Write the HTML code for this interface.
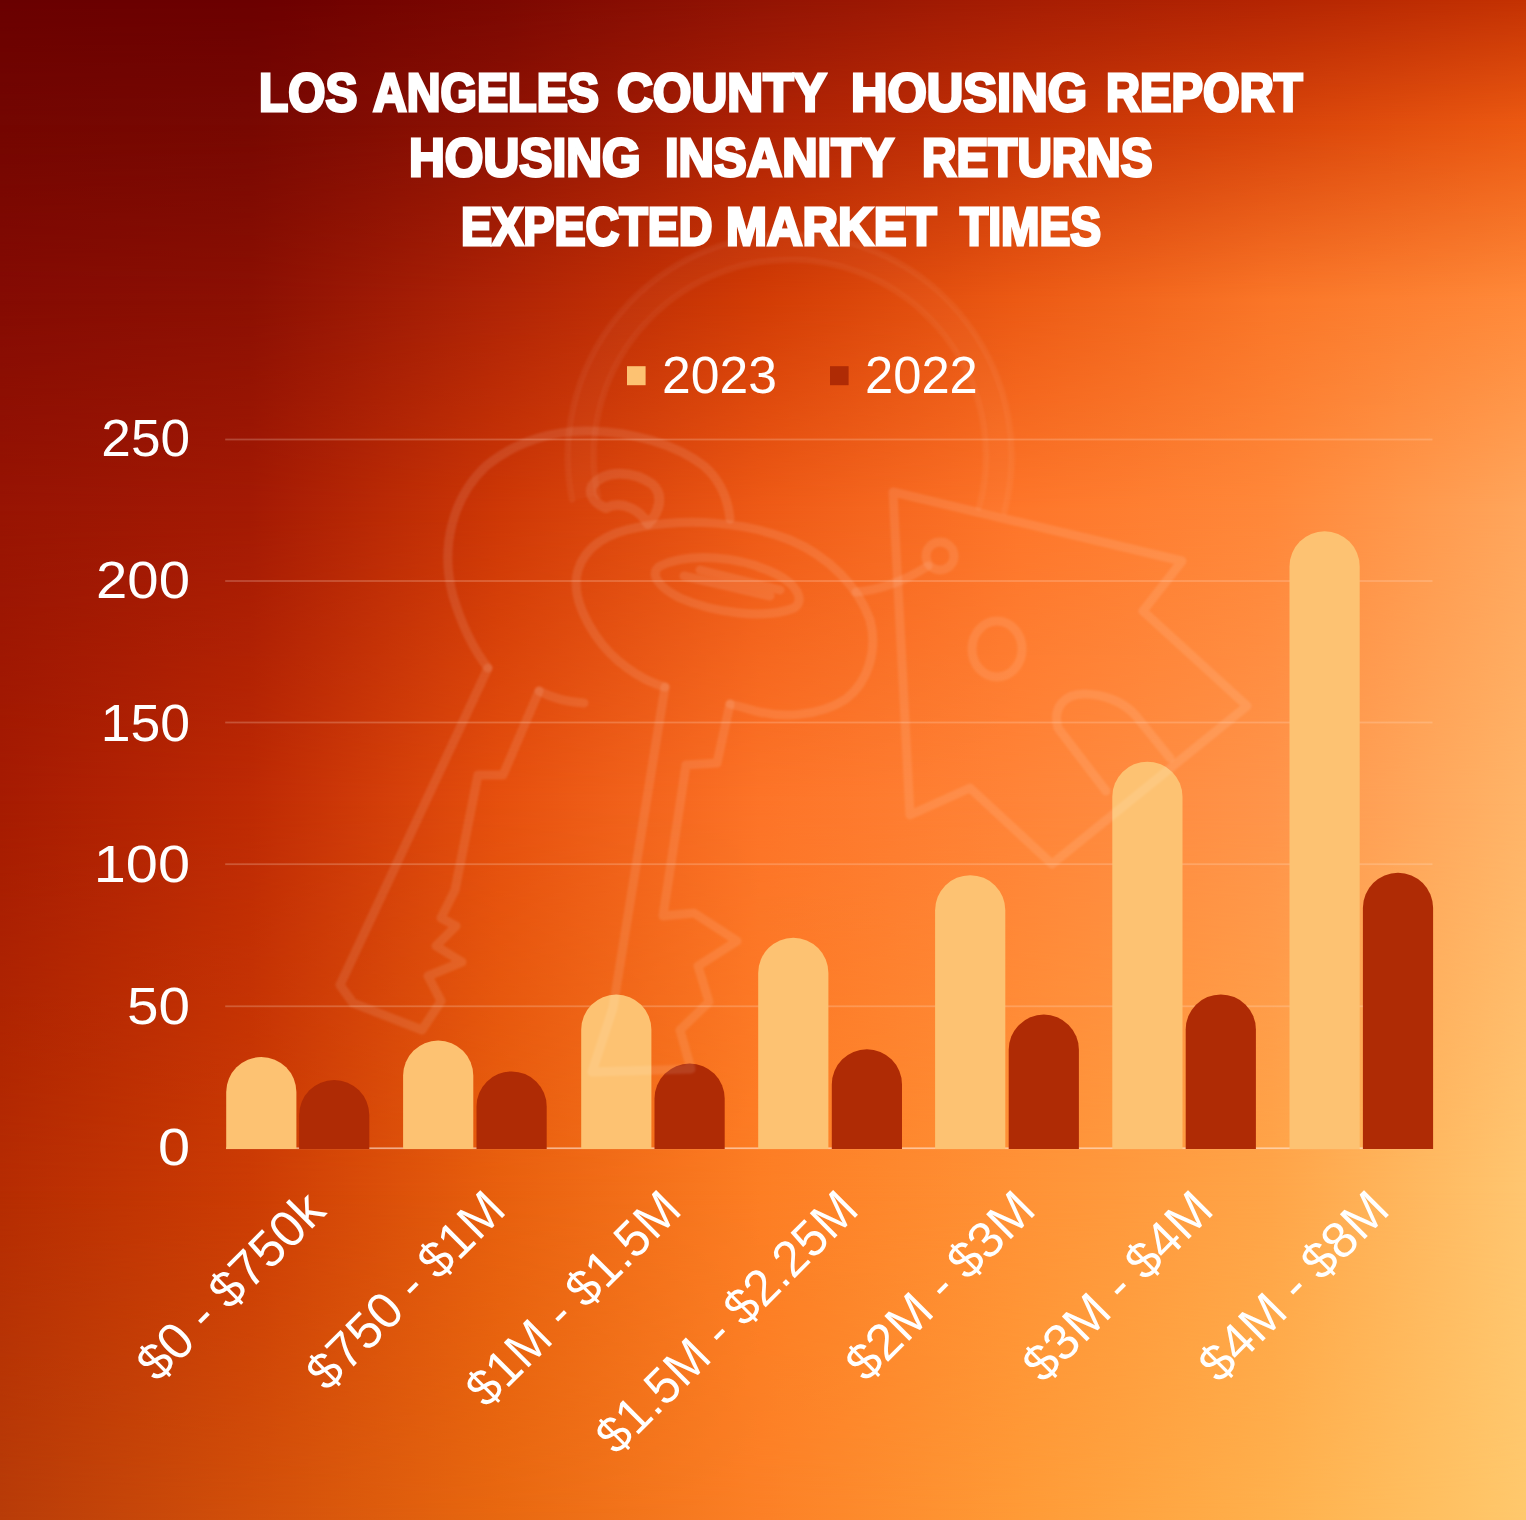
<!DOCTYPE html>
<html lang="en"><head><meta charset="utf-8"><title>Los Angeles County Housing Report</title>
<style>
html,body{margin:0;padding:0;}
body{width:1526px;height:1520px;overflow:hidden;background:#E85A12;font-family:"Liberation Sans",sans-serif;}
#stage{position:relative;width:1526px;height:1520px;overflow:hidden;}
.abs{position:absolute;left:0;top:0;display:block;}
.t{position:absolute;color:#fff;white-space:nowrap;line-height:1.149;font-family:"Liberation Sans",sans-serif;}
.ttl{font-weight:bold;-webkit-text-stroke:3.0px #fff;}
.w{position:absolute;top:0;transform-origin:0 50%;white-space:nowrap;}
.yl,.xl{text-align:right;}
</style></head><body><div id="stage">
<svg class="abs" width="1526" height="1520" viewBox="0 0 1526 1520"><defs><linearGradient id="r0" x1="0" y1="0" x2="1526" y2="0" gradientUnits="userSpaceOnUse"><stop offset="0.0000" stop-color="#6A0000"/><stop offset="0.1638" stop-color="#6C0000"/><stop offset="0.3277" stop-color="#7C0802"/><stop offset="0.4980" stop-color="#931404"/><stop offset="0.6664" stop-color="#A61D04"/><stop offset="0.8329" stop-color="#B42503"/><stop offset="1.0000" stop-color="#C43203"/></linearGradient><linearGradient id="r1" x1="0" y1="0" x2="1526" y2="0" gradientUnits="userSpaceOnUse"><stop offset="0.0000" stop-color="#740601"/><stop offset="0.1638" stop-color="#780802"/><stop offset="0.3277" stop-color="#8E1203"/><stop offset="0.4980" stop-color="#AE2205"/><stop offset="0.6664" stop-color="#C43206"/><stop offset="0.8329" stop-color="#D8440A"/><stop offset="1.0000" stop-color="#EC5A12"/></linearGradient><linearGradient id="a1" x1="0" y1="0" x2="0" y2="125" gradientUnits="userSpaceOnUse"><stop offset="0" stop-color="#fff" stop-opacity="0"/><stop offset="1" stop-color="#fff" stop-opacity="1"/></linearGradient><mask id="m1" maskUnits="userSpaceOnUse" x="0" y="0" width="1526" height="1520"><rect x="0" y="0" width="1526" height="1520" fill="url(#a1)"/></mask><linearGradient id="r2" x1="0" y1="0" x2="1526" y2="0" gradientUnits="userSpaceOnUse"><stop offset="0.0000" stop-color="#850B03"/><stop offset="0.1638" stop-color="#8C1003"/><stop offset="0.3277" stop-color="#B02406"/><stop offset="0.4980" stop-color="#D23C05"/><stop offset="0.6664" stop-color="#EC5A14"/><stop offset="0.8329" stop-color="#FA7628"/><stop offset="1.0000" stop-color="#FF8A3A"/></linearGradient><linearGradient id="a2" x1="0" y1="125" x2="0" y2="300" gradientUnits="userSpaceOnUse"><stop offset="0" stop-color="#fff" stop-opacity="0"/><stop offset="1" stop-color="#fff" stop-opacity="1"/></linearGradient><mask id="m2" maskUnits="userSpaceOnUse" x="0" y="0" width="1526" height="1520"><rect x="0" y="125" width="1526" height="1395" fill="url(#a2)"/></mask><linearGradient id="r3" x1="0" y1="0" x2="1526" y2="0" gradientUnits="userSpaceOnUse"><stop offset="0.0000" stop-color="#981403"/><stop offset="0.1638" stop-color="#A41A04"/><stop offset="0.3277" stop-color="#CE3806"/><stop offset="0.4980" stop-color="#EE5A16"/><stop offset="0.6664" stop-color="#FE762A"/><stop offset="0.8329" stop-color="#FF883A"/><stop offset="1.0000" stop-color="#FFA65C"/></linearGradient><linearGradient id="a3" x1="0" y1="300" x2="0" y2="510" gradientUnits="userSpaceOnUse"><stop offset="0" stop-color="#fff" stop-opacity="0"/><stop offset="1" stop-color="#fff" stop-opacity="1"/></linearGradient><mask id="m3" maskUnits="userSpaceOnUse" x="0" y="0" width="1526" height="1520"><rect x="0" y="300" width="1526" height="1220" fill="url(#a3)"/></mask><linearGradient id="r4" x1="0" y1="0" x2="1526" y2="0" gradientUnits="userSpaceOnUse"><stop offset="0.0000" stop-color="#A61B02"/><stop offset="0.1638" stop-color="#BE2A04"/><stop offset="0.3277" stop-color="#E6500E"/><stop offset="0.4980" stop-color="#FD7428"/><stop offset="0.6664" stop-color="#FF8438"/><stop offset="0.8329" stop-color="#FF944A"/><stop offset="1.0000" stop-color="#FFB468"/></linearGradient><linearGradient id="a4" x1="0" y1="510" x2="0" y2="800" gradientUnits="userSpaceOnUse"><stop offset="0" stop-color="#fff" stop-opacity="0"/><stop offset="1" stop-color="#fff" stop-opacity="1"/></linearGradient><mask id="m4" maskUnits="userSpaceOnUse" x="0" y="0" width="1526" height="1520"><rect x="0" y="510" width="1526" height="1010" fill="url(#a4)"/></mask><linearGradient id="r5" x1="0" y1="0" x2="1526" y2="0" gradientUnits="userSpaceOnUse"><stop offset="0.0000" stop-color="#B62C02"/><stop offset="0.1638" stop-color="#CC3C04"/><stop offset="0.3277" stop-color="#E8600E"/><stop offset="0.4980" stop-color="#FD7E24"/><stop offset="0.6664" stop-color="#FF9236"/><stop offset="0.8329" stop-color="#FFA548"/><stop offset="1.0000" stop-color="#FFC670"/></linearGradient><linearGradient id="a5" x1="0" y1="800" x2="0" y2="1190" gradientUnits="userSpaceOnUse"><stop offset="0" stop-color="#fff" stop-opacity="0"/><stop offset="1" stop-color="#fff" stop-opacity="1"/></linearGradient><mask id="m5" maskUnits="userSpaceOnUse" x="0" y="0" width="1526" height="1520"><rect x="0" y="800" width="1526" height="720" fill="url(#a5)"/></mask><linearGradient id="r6" x1="0" y1="0" x2="1526" y2="0" gradientUnits="userSpaceOnUse"><stop offset="0.0000" stop-color="#B83C08"/><stop offset="0.1638" stop-color="#D2500A"/><stop offset="0.3277" stop-color="#E86810"/><stop offset="0.4980" stop-color="#FC8026"/><stop offset="0.6664" stop-color="#FF9A36"/><stop offset="0.8329" stop-color="#FFB04C"/><stop offset="1.0000" stop-color="#FFC86C"/></linearGradient><linearGradient id="a6" x1="0" y1="1190" x2="0" y2="1520" gradientUnits="userSpaceOnUse"><stop offset="0" stop-color="#fff" stop-opacity="0"/><stop offset="1" stop-color="#fff" stop-opacity="1"/></linearGradient><mask id="m6" maskUnits="userSpaceOnUse" x="0" y="0" width="1526" height="1520"><rect x="0" y="1190" width="1526" height="330" fill="url(#a6)"/></mask></defs><rect x="0" y="0" width="1526" height="1520" fill="url(#r0)"/><rect x="0" y="0" width="1526" height="1520" fill="url(#r1)" mask="url(#m1)"/><rect x="0" y="125" width="1526" height="1395" fill="url(#r2)" mask="url(#m2)"/><rect x="0" y="300" width="1526" height="1220" fill="url(#r3)" mask="url(#m3)"/><rect x="0" y="510" width="1526" height="1010" fill="url(#r4)" mask="url(#m4)"/><rect x="0" y="800" width="1526" height="720" fill="url(#r5)" mask="url(#m5)"/><rect x="0" y="1190" width="1526" height="330" fill="url(#r6)" mask="url(#m6)"/></svg>
<svg class="abs" width="1526" height="1520" viewBox="0 0 1526 1520"><rect x="225.2" y="438.6" width="1207.3" height="1.8" fill="#FFE4D6" fill-opacity="0.24"/><rect x="225.2" y="580.1" width="1207.3" height="1.8" fill="#FFE4D6" fill-opacity="0.24"/><rect x="225.2" y="721.6" width="1207.3" height="1.8" fill="#FFE4D6" fill-opacity="0.24"/><rect x="225.2" y="863.3" width="1207.3" height="1.8" fill="#FFE4D6" fill-opacity="0.24"/><rect x="225.2" y="1005.4" width="1207.3" height="1.8" fill="#FFE4D6" fill-opacity="0.24"/><rect x="226" y="1147.4" width="1206.5" height="1.7" fill="#FFEBDD" fill-opacity="0.6"/><path d="M226.2 1149.1V1092.1A35.1 35.1 0 0 1 296.4 1092.1V1149.1Z" fill="#FDC272"/><path d="M299.1 1149.1V1115.1A35.1 35.1 0 0 1 369.3 1115.1V1149.1Z" fill="#AF2B05"/><path d="M403.1 1149.1V1075.6A35.1 35.1 0 0 1 473.3 1075.6V1149.1Z" fill="#FDC272"/><path d="M476.5 1149.1V1106.5A35.1 35.1 0 0 1 546.7 1106.5V1149.1Z" fill="#AF2B05"/><path d="M581.2 1149.1V1029.6A35.1 35.1 0 0 1 651.4 1029.6V1149.1Z" fill="#FDC272"/><path d="M654.5 1149.1V1098.6A35.1 35.1 0 0 1 724.7 1098.6V1149.1Z" fill="#AF2B05"/><path d="M758.2 1149.1V972.9A35.1 35.1 0 0 1 828.4 972.9V1149.1Z" fill="#FDC272"/><path d="M831.8 1149.1V1084.4A35.1 35.1 0 0 1 902.0 1084.4V1149.1Z" fill="#AF2B05"/><path d="M935.1 1149.1V910.3A35.1 35.1 0 0 1 1005.3 910.3V1149.1Z" fill="#FDC272"/><path d="M1008.7 1149.1V1049.7A35.1 35.1 0 0 1 1078.9 1049.7V1149.1Z" fill="#AF2B05"/><path d="M1112.3 1149.1V796.8A35.1 35.1 0 0 1 1182.5 796.8V1149.1Z" fill="#FDC272"/><path d="M1185.7 1149.1V1029.5A35.1 35.1 0 0 1 1255.9 1029.5V1149.1Z" fill="#AF2B05"/><path d="M1289.5 1149.1V566.4A35.1 35.1 0 0 1 1359.7 566.4V1149.1Z" fill="#FDC272"/><path d="M1362.9 1149.1V907.8A35.1 35.1 0 0 1 1433.1 907.8V1149.1Z" fill="#AF2B05"/><rect x="627" y="366.2" width="18.6" height="19" fill="#FDC272"/><rect x="830" y="366.2" width="18.6" height="19" fill="#AF2B05"/></svg>
<svg class="abs" width="1526" height="1520" viewBox="0 0 1526 1520"><defs><filter id="wb" x="-5%" y="-5%" width="110%" height="110%"><feGaussianBlur stdDeviation="1.2"/></filter></defs>
<g filter="url(#wb)" fill="none" stroke="#fff" stroke-opacity="0.1" stroke-width="9" stroke-linecap="round" stroke-linejoin="round">
<!-- key ring (double line) -->
<path d="M572 500A222 222 0 1 1 1004.6 512" stroke-width="6" stroke-opacity="0.05"/>
<path d="M585 498A209 209 0 1 1 991.5 510" stroke-width="24" stroke-opacity="0.025" stroke-linecap="butt"/>
<path d="M598 496A196 196 0 1 1 978.7 508" stroke-width="6" stroke-opacity="0.05"/>
<!-- key 1 head -->
<path d="M488 668C474 650 462 626 453 596C440 548 452 498 486 466C518 440 556 430 590 431C632 432 676 444 704 466C720 480 728 500 730 519"/>
<path d="M539 691C552 698 568 702 584 703"/>
<!-- key 1 hole -->
<path d="M592 486C604 470 632 470 652 484C664 494 660 512 648 524C640 510 622 500 606 508C596 504 588 496 592 486Z" stroke-width="10"/>
<!-- key 1 shaft -->
<path d="M488 668L340 985L353 1003L422 1030L441 1001L428 976L462 962L436 946L456 926L441 918L455 890L478 775L503 775L539 691"/>
<!-- key 2 head -->
<path d="M665 687C640 680 612 660 596 636C580 612 572 590 578 570C586 545 610 532 640 527C690 518 746 522 790 540C828 556 858 586 870 620C878 650 868 682 846 699C820 716 780 720 745 708L730 704"/>
<!-- key 2 slot -->
<path d="M660 566C690 552 740 556 776 574C796 584 806 600 794 608C764 620 712 612 680 598C660 588 648 574 660 566Z"/>
<path d="M684 576L770 596M700 570L780 590"/>
<!-- key 2 shaft -->
<path d="M665 687L613 1008L592 1072L691 1069L680 1030L709 1002L698 966L737 941L694 913L663 916L686 765L717 763L730 704"/>
<!-- house tag -->
<path d="M893 492L1182 561L1143 611L1247 706L1052 864L970 788L910 815Z"/>
<ellipse cx="997" cy="649" rx="25" ry="28"/>
<path d="M1106 791L1058 728C1052 706 1066 694 1084 694C1104 694 1124 702 1136 716L1170 758"/>
<!-- tag connector -->
<circle cx="940" cy="556" r="14"/>
<path d="M928 566C906 580 880 590 856 592"/>
</g>
</svg>
<div class="t ttl" style="left:0;top:61.98px;width:1526px;height:61.5px;font-size:53.5px"><span class="w" style="left:258.81px;transform:scaleX(0.8935)">LOS</span> <span class="w" style="left:372.97px;transform:scaleX(0.8741)">ANGELES</span> <span class="w" style="left:617.07px;transform:scaleX(0.9283)">COUNTY</span> <span class="w" style="left:850.61px;transform:scaleX(0.9451)">HOUSING</span> <span class="w" style="left:1105.54px;transform:scaleX(0.8815)">REPORT</span></div><div class="t ttl" style="left:0;top:127.48px;width:1526px;height:61.5px;font-size:53.5px"><span class="w" style="left:409.14px;transform:scaleX(0.9276)">HOUSING</span> <span class="w" style="left:664.97px;transform:scaleX(0.9165)">INSANITY</span> <span class="w" style="left:921.52px;transform:scaleX(0.8914)">RETURNS</span></div><div class="t ttl" style="left:0;top:196.38px;width:1526px;height:61.5px;font-size:53.5px"><span class="w" style="left:460.56px;transform:scaleX(0.8724)">EXPECTED</span> <span class="w" style="left:725.86px;transform:scaleX(0.9202)">MARKET</span> <span class="w" style="left:959.56px;transform:scaleX(0.8628)">TIMES</span></div><div class="t lg" style="left:661.5px;top:346.85px;font-size:51px;transform-origin:0 50%;transform:scaleX(1.013)">2023</div><div class="t lg" style="left:864.5px;top:346.85px;font-size:51px;transform-origin:0 50%;transform:scaleX(0.994)">2022</div><div class="t yl" style="left:-109.69999999999999px;width:300px;top:410.45px;font-size:51px;transform-origin:100% 50%;transform:scaleX(1.042)">250</div><div class="t yl" style="left:-109.69999999999999px;width:300px;top:552.35px;font-size:51px;transform-origin:100% 50%;transform:scaleX(1.104)">200</div><div class="t yl" style="left:-109.69999999999999px;width:300px;top:694.85px;font-size:51px;transform-origin:100% 50%;transform:scaleX(1.05)">150</div><div class="t yl" style="left:-109.69999999999999px;width:300px;top:836.25px;font-size:51px;transform-origin:100% 50%;transform:scaleX(1.131)">100</div><div class="t yl" style="left:-109.69999999999999px;width:300px;top:977.85px;font-size:51px;transform-origin:100% 50%;transform:scaleX(1.11)">50</div><div class="t yl" style="left:-109.69999999999999px;width:300px;top:1119.25px;font-size:51px;transform-origin:100% 50%;transform:scaleX(1.132)">0</div><div class="t xl" style="left:-272.2px;width:600px;top:1167.44px;font-size:51px;transform-origin:100% 46.16px;transform:rotate(-45deg) scaleX(1.0)">$0 - $750k</div><div class="t xl" style="left:-92.5px;width:600px;top:1165.85px;font-size:51px;transform-origin:100% 46.16px;transform:rotate(-45deg) scaleX(0.99)">$750 - $1M</div><div class="t xl" style="left:83.5px;width:600px;top:1165.85px;font-size:51px;transform-origin:100% 46.16px;transform:rotate(-45deg) scaleX(0.974)">$1M - $1.5M</div><div class="t xl" style="left:260.5px;width:600px;top:1165.85px;font-size:51px;transform-origin:100% 46.16px;transform:rotate(-45deg) scaleX(0.967)">$1.5M - $2.25M</div><div class="t xl" style="left:437.79999999999995px;width:600px;top:1165.85px;font-size:51px;transform-origin:100% 46.16px;transform:rotate(-45deg) scaleX(0.995)">$2M - $3M</div><div class="t xl" style="left:615.7px;width:600px;top:1165.85px;font-size:51px;transform-origin:100% 46.16px;transform:rotate(-45deg) scaleX(1.0)">$3M - $4M</div><div class="t xl" style="left:792.0999999999999px;width:600px;top:1165.85px;font-size:51px;transform-origin:100% 46.16px;transform:rotate(-45deg) scaleX(1.0)">$4M - $8M</div>
</div></body></html>
